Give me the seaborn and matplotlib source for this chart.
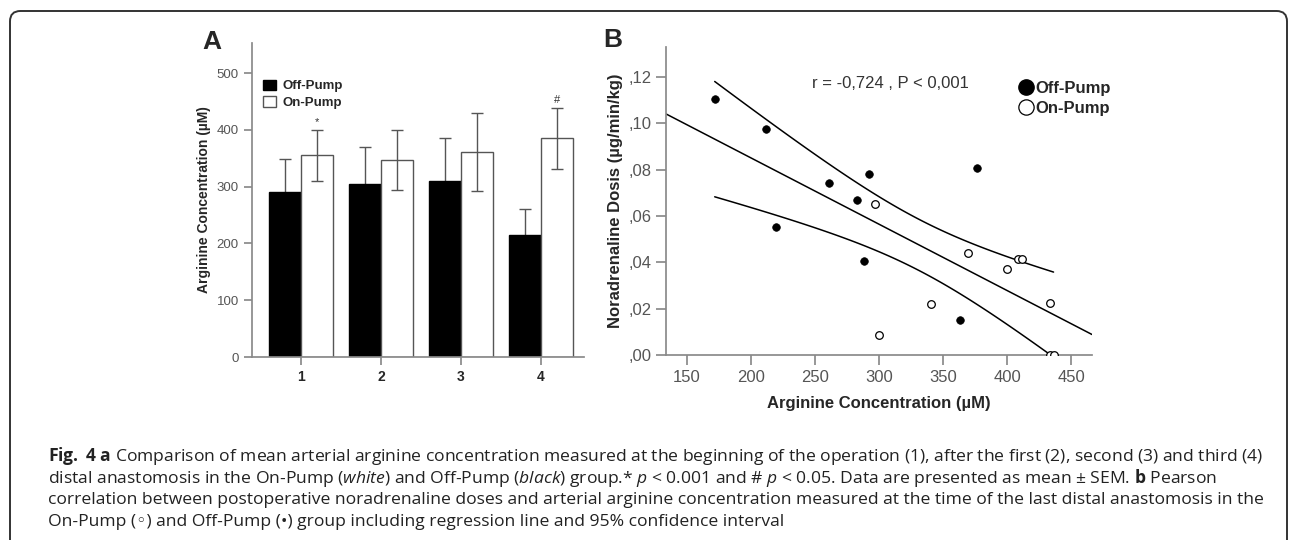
import numpy as np
import pandas as pd
import seaborn as sns
import matplotlib.pyplot as plt
from matplotlib.lines import Line2D
from matplotlib.patches import Patch, FancyBboxPatch
from matplotlib.ticker import FuncFormatter

# panel A: arginine concentration (mean, SEM) at 4 time points
timepoints = ['1', '2', '3', '4']
off_mean = [290, 305, 310, 215]
off_sem = [58, 65, 75, 45]
on_mean = [355, 347, 361, 385]
on_sem = [45, 53, 69, 54]
signif = ['*', '', '', '#']

# panel B: arginine (uM) vs noradrenaline dose
off_arg = [171.6, 211.7, 219.5, 260.7, 282.3, 288.0, 292.0, 362.7, 376.6]
off_dose = [0.1107, 0.0976, 0.0553, 0.0743, 0.0670, 0.0405, 0.0782, 0.0151, 0.0807]
on_arg = [296.3, 300.0, 340.4, 369.0, 399.5, 408.0, 411.5, 433.0, 433.5, 436.0]
on_dose = [0.0651, 0.0086, 0.0222, 0.0442, 0.0372, 0.0415, 0.0415, 0.0226, 0.0, 0.0]

sns.set_theme(style='ticks')
plt.rcParams['font.family'] = ['Liberation Sans', 'DejaVu Sans']
plt.rcParams['mathtext.fontset'] = 'custom'
plt.rcParams['mathtext.rm'] = 'Open Sans'
plt.rcParams['mathtext.it'] = 'Open Sans:italic'
plt.rcParams['mathtext.bf'] = 'Open Sans:bold'

W, H = 1295, 540
fig = plt.figure(figsize=(W / 100, H / 100), dpi=100)
axA = fig.add_axes([252 / W, 1 - 357 / H, 332 / W, 314 / H])
axB = fig.add_axes([666 / W, 1 - 355 / H, 426 / W, 308 / H])

spine_col = '#8a8a8a'
tick_col = '#555555'

# ---------------- panel A ----------------
dfA = pd.DataFrame({
    'tp': timepoints * 2,
    'group': ['Off-Pump'] * 4 + ['On-Pump'] * 4,
    'value': off_mean + on_mean,
})
sns.barplot(data=dfA, x='tp', y='value', hue='group',
            palette={'Off-Pump': 'black', 'On-Pump': 'white'},
            saturation=1, edgecolor='#555555', linewidth=1,
            errorbar=None, legend=False, ax=axA)

bars = sorted(axA.patches, key=lambda p: p.get_x())
for i in range(len(timepoints)):
    ob, nb = bars[2 * i], bars[2 * i + 1]
    ob.set_edgecolor('black')
    xo = ob.get_x() + ob.get_width() / 2
    xn = nb.get_x() + nb.get_width() / 2
    axA.errorbar(xo, off_mean[i], yerr=off_sem[i], color='#555555',
                 capsize=4, lw=1, capthick=1, zorder=0.5)
    axA.errorbar(xn, on_mean[i], yerr=on_sem[i], color='#555555',
                 capsize=4, lw=1, capthick=1, zorder=3)
    if signif[i]:
        axA.annotate(signif[i], (xn, on_mean[i] + on_sem[i]), xytext=(0, 2),
                     textcoords='offset points', ha='center', va='bottom',
                     fontsize=8, color='#333333')

axA.set_ylim(0, 553)
axA.set_xlim(-0.6125, 3.54)
axA.set_yticks(range(0, 501, 100))
axA.set_xlabel('')
axA.set_ylabel('Arginine Concentration (µM)', fontsize=10, fontweight='bold', labelpad=4)
axA.tick_params(axis='y', labelsize=9.5, labelcolor=tick_col, color=spine_col, length=6)
axA.tick_params(axis='x', labelsize=10, color=spine_col, length=6)
for lab in axA.get_xticklabels():
    lab.set_fontweight('bold')
sns.despine(ax=axA)
for s in ['left', 'bottom']:
    axA.spines[s].set_color(spine_col)

hA = [Patch(facecolor='black', edgecolor='black', label='Off-Pump'),
      Patch(facecolor='white', edgecolor='#555555', label='On-Pump')]
fig.legend(handles=hA, loc='upper left', bbox_to_anchor=(256 / W, 1 - 73 / H),
           frameon=False, borderpad=0, handlelength=1.0, handleheight=0.85,
           handletextpad=0.5, labelspacing=0.3,
           prop={'size': 9.5, 'weight': 'bold'})

# ---------------- panel B ----------------
dfOff = pd.DataFrame({'arg': off_arg, 'dose': off_dose})
dfOn = pd.DataFrame({'arg': on_arg, 'dose': on_dose})
sns.scatterplot(data=dfOff, x='arg', y='dose', color='black', s=30,
                edgecolor='black', linewidth=0.5, ax=axB, zorder=3)
sns.scatterplot(data=dfOn, x='arg', y='dose', facecolor='white', s=30,
                edgecolor='black', linewidth=0.9, ax=axB, zorder=3)

xlim = (133.6, 466)
x = np.array(off_arg + on_arg)
y = np.array(off_dose + on_dose)
n = len(x)
slope, icpt = np.polyfit(x, y, 1)
resid = y - (icpt + slope * x)
s_err = np.sqrt(np.sum(resid ** 2) / (n - 2))
t_crit = 2.110  # t(0.975, df=17)
xf = np.linspace(*xlim, 100)
axB.plot(xf, icpt + slope * xf, color='black', lw=1.1)
xc = np.linspace(x.min(), x.max(), 100)
se = s_err * np.sqrt(1 / n + (xc - x.mean()) ** 2 / np.sum((x - x.mean()) ** 2))
axB.plot(xc, icpt + slope * xc + t_crit * se, color='black', lw=1.1)
axB.plot(xc, icpt + slope * xc - t_crit * se, color='black', lw=1.1)

axB.set_xlim(*xlim)
axB.set_ylim(0, 0.133)
axB.set_xticks(range(150, 451, 50))
axB.set_yticks(np.arange(0, 0.121, 0.02))
axB.yaxis.set_major_formatter(FuncFormatter(lambda v, p: f'{v:.2f}'[1:].replace('.', ',')))
axB.set_xlabel('Arginine Concentration (µM)', fontsize=12, fontweight='bold', labelpad=8)
axB.set_ylabel('Noradrenaline Dosis (µg/min/kg)', fontsize=12, fontweight='bold', labelpad=4)
axB.tick_params(labelsize=12, labelcolor=tick_col, color=spine_col, length=7)
sns.despine(ax=axB)
for s in ['left', 'bottom']:
    axB.spines[s].set_color(spine_col)
axB.text((812 - 666) / 426, (355 - 83) / 308, 'r = -0,724 , P < 0,001',
         transform=axB.transAxes, fontsize=12, color='#333333', va='center')

hB = [Line2D([], [], ls='', marker='o', markersize=11, mfc='black', mec='black', label='Off-Pump'),
      Line2D([], [], ls='', marker='o', markersize=11, mfc='white', mec='black', mew=0.9, label='On-Pump')]
fig.legend(handles=hB, loc='upper left', bbox_to_anchor=(1009 / W, 1 - 73 / H),
           frameon=False, borderpad=0, handlelength=1.0, handletextpad=0.1,
           labelspacing=0.25, prop={'size': 12, 'weight': 'bold'})

# panel letters
fig.text(212 / W, 1 - 42 / H, 'A', fontsize=19, fontweight='bold', ha='center', va='center')
fig.text(613 / W, 1 - 40 / H, 'B', fontsize=19, fontweight='bold', ha='center', va='center')

# caption
cap_font = ['Open Sans', 'DejaVu Sans']
caption = [
    r"$\mathbf{Fig.}$ $\mathbf{4}$ $\mathbf{a}$ Comparison of mean arterial arginine concentration measured at the beginning of the operation (1), after the first (2), second (3) and third (4)",
    r"distal anastomosis in the On-Pump ($\mathit{white}$) and Off-Pump ($\mathit{black}$) group.* $\mathit{p}$ < 0.001 and # $\mathit{p}$ < 0.05. Data are presented as mean ± SEM. $\mathbf{b}$ Pearson",
    "correlation between postoperative noradrenaline doses and arterial arginine concentration measured at the time of the last distal anastomosis in the",
    "On-Pump (◦) and Off-Pump (•) group including regression line and 95% confidence interval",
]
baselines = [461, 483, 504.5, 526]
for line, b in zip(caption, baselines):
    fig.text(48 / W, 1 - b / H, line, fontsize=12.6, family=cap_font,
             color='#222222', va='baseline', ha='left')

# rounded frame, open at the bottom
frame = FancyBboxPatch((10 / W, -0.1), 1277 / W, 1 - 11 / H + 0.1,
                       boxstyle='round,pad=0,rounding_size=0.008',
                       mutation_aspect=W / H, transform=fig.transFigure,
                       fill=False, ec='#333333', lw=1.4)
fig.patches.append(frame)

fig.savefig('out.png', dpi=100)
